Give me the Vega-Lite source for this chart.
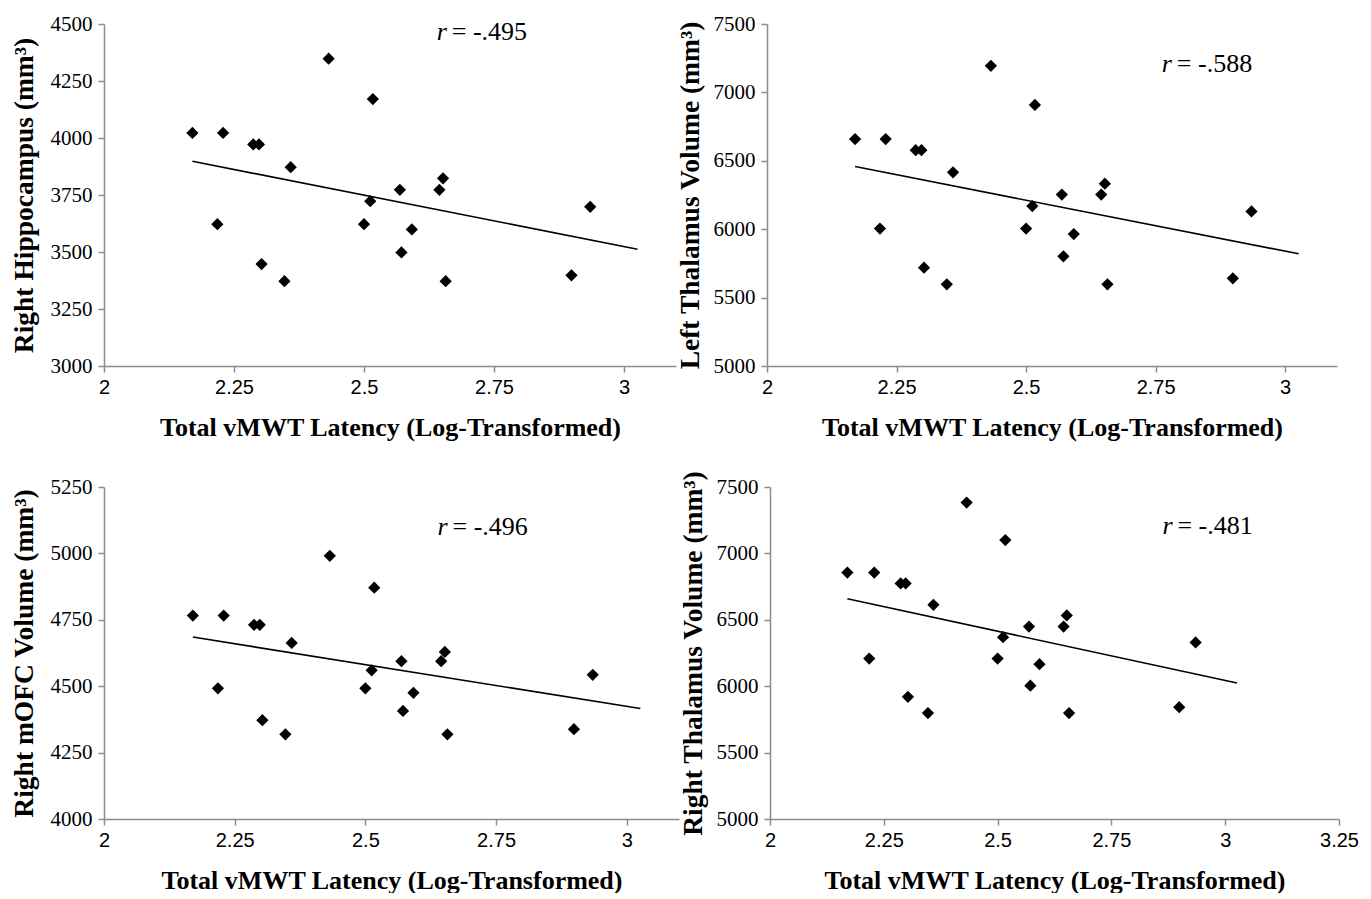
{
  "$schema": "https://vega.github.io/schema/vega-lite/v6.json",
  "background": "white",
  "padding": {"left": 10, "top": 13, "right": 0, "bottom": 0},
  "datasets": {
    "pts": [
      {"latency": 2.170, "hippo": 4022, "lthal": 6659, "mofc": 4766, "rthal": 6856},
      {"latency": 2.229, "hippo": 4022, "lthal": 6659, "mofc": 4766, "rthal": 6856},
      {"latency": 2.287, "hippo": 3972, "lthal": 6578, "mofc": 4731, "rthal": 6774},
      {"latency": 2.298, "hippo": 3972, "lthal": 6578, "mofc": 4731, "rthal": 6774},
      {"latency": 2.359, "hippo": 3872, "lthal": 6416, "mofc": 4663, "rthal": 6613},
      {"latency": 2.218, "hippo": 3622, "lthal": 6005, "mofc": 4492, "rthal": 6208},
      {"latency": 2.303, "hippo": 3447, "lthal": 5719, "mofc": 4372, "rthal": 5920},
      {"latency": 2.347, "hippo": 3372, "lthal": 5597, "mofc": 4319, "rthal": 5798},
      {"latency": 2.432, "hippo": 4348, "lthal": 7194, "mofc": 4991, "rthal": 7383},
      {"latency": 2.517, "hippo": 4171, "lthal": 6908, "mofc": 4871, "rthal": 7100},
      {"latency": 2.512, "hippo": 3723, "lthal": 6169, "mofc": 4560, "rthal": 6369},
      {"latency": 2.500, "hippo": 3622, "lthal": 6005, "mofc": 4492, "rthal": 6208},
      {"latency": 2.569, "hippo": 3773, "lthal": 6253, "mofc": 4594, "rthal": 6449},
      {"latency": 2.572, "hippo": 3498, "lthal": 5802, "mofc": 4407, "rthal": 6004},
      {"latency": 2.592, "hippo": 3599, "lthal": 5964, "mofc": 4475, "rthal": 6166},
      {"latency": 2.645, "hippo": 3773, "lthal": 6253, "mofc": 4594, "rthal": 6449},
      {"latency": 2.652, "hippo": 3823, "lthal": 6333, "mofc": 4629, "rthal": 6533},
      {"latency": 2.657, "hippo": 3372, "lthal": 5597, "mofc": 4319, "rthal": 5798},
      {"latency": 2.899, "hippo": 3398, "lthal": 5641, "mofc": 4338, "rthal": 5842},
      {"latency": 2.935, "hippo": 3698, "lthal": 6130, "mofc": 4543, "rthal": 6330}
    ],
    "fits": [
      {"latency": 2.170, "hippo": 3898, "lthal": 6458, "mofc": 4685, "rthal": 6658},
      {"latency": 3.026, "hippo": 3512, "lthal": 5820, "mofc": 4416, "rthal": 6024}
    ]
  },
  "config": {
    "view": {"stroke": null},
    "axis": {
      "grid": false,
      "domainColor": "#8c8c8c",
      "domainWidth": 1.5,
      "tickColor": "#8c8c8c",
      "tickWidth": 1.5,
      "tickSize": 6,
      "labelColor": "#000000",
      "titleColor": "#000000",
      "titleFont": "Liberation Serif",
      "titleFontWeight": "bold"
    },
    "axisX": {"labelFont": "Liberation Sans", "labelFontSize": 20, "labelPadding": 5, "labelFlush": false, "titlePadding": 17, "titleFontSize": 26, "format": ".2~f"},
    "axisY": {"labelFont": "Liberation Serif", "labelFontSize": 21, "labelPadding": 6, "titlePadding": 12, "titleFontSize": 27.5, "format": "d"}
  },
  "spacing": 30,
  "vconcat": [
    {
      "spacing": 0,
      "hconcat": [
        {
          "width": 572,
          "height": 342,
          "layer": [
            {
              "data": {"name": "pts"},
              "mark": {"type": "point", "shape": "diamond", "filled": true, "color": "#000000", "size": 150, "opacity": 1},
              "encoding": {
                "x": {"field": "latency", "type": "quantitative", "scale": {"domain": [2, 3.1], "nice": false, "zero": false}, "axis": {"values": [2, 2.25, 2.5, 2.75, 3], "title": "Total vMWT Latency (Log-Transformed)"}},
                "y": {"field": "hippo", "type": "quantitative", "scale": {"domain": [3000, 4500], "nice": false, "zero": false}, "axis": {"values": [3000, 3250, 3500, 3750, 4000, 4250, 4500], "title": "Right Hippocampus (mm³)"}}
              }
            },
            {
              "data": {"name": "fits"},
              "mark": {"type": "line", "color": "#000000", "strokeWidth": 1.6},
              "encoding": {"x": {"field": "latency", "type": "quantitative"}, "y": {"field": "hippo", "type": "quantitative"}}
            },
            {
              "data": {"values": [{}]},
              "mark": {"type": "text", "font": "Liberation Serif", "fontSize": 26, "fontStyle": "italic", "align": "left", "baseline": "middle", "color": "#000000"},
              "encoding": {"x": {"datum": 2.64}, "y": {"datum": 4465}, "text": {"value": "r"}}
            },
            {
              "data": {"values": [{}]},
              "mark": {"type": "text", "font": "Liberation Serif", "fontSize": 26, "align": "left", "baseline": "middle", "dx": 15, "color": "#000000"},
              "encoding": {"x": {"datum": 2.64}, "y": {"datum": 4465}, "text": {"value": "= -.495"}}
            }
          ]
        },
        {
          "width": 570,
          "height": 342,
          "layer": [
            {
              "data": {"name": "pts"},
              "mark": {"type": "point", "shape": "diamond", "filled": true, "color": "#000000", "size": 150, "opacity": 1},
              "encoding": {
                "x": {"field": "latency", "type": "quantitative", "scale": {"domain": [2, 3.1], "nice": false, "zero": false}, "axis": {"values": [2, 2.25, 2.5, 2.75, 3], "title": "Total vMWT Latency (Log-Transformed)"}},
                "y": {"field": "lthal", "type": "quantitative", "scale": {"domain": [5000, 7500], "nice": false, "zero": false}, "axis": {"values": [5000, 5500, 6000, 6500, 7000, 7500], "title": "Left Thalamus Volume (mm³)", "titlePadding": 9}}
              }
            },
            {
              "data": {"name": "fits"},
              "mark": {"type": "line", "color": "#000000", "strokeWidth": 1.6},
              "encoding": {"x": {"field": "latency", "type": "quantitative"}, "y": {"field": "lthal", "type": "quantitative"}}
            },
            {
              "data": {"values": [{}]},
              "mark": {"type": "text", "font": "Liberation Serif", "fontSize": 26, "fontStyle": "italic", "align": "left", "baseline": "middle", "color": "#000000"},
              "encoding": {"x": {"datum": 2.762}, "y": {"datum": 7210}, "text": {"value": "r"}}
            },
            {
              "data": {"values": [{}]},
              "mark": {"type": "text", "font": "Liberation Serif", "fontSize": 26, "align": "left", "baseline": "middle", "dx": 15, "color": "#000000"},
              "encoding": {"x": {"datum": 2.762}, "y": {"datum": 7210}, "text": {"value": "= -.588"}}
            }
          ]
        }
      ]
    },
    {
      "spacing": 0,
      "hconcat": [
        {
          "width": 575,
          "height": 332,
          "layer": [
            {
              "data": {"name": "pts"},
              "mark": {"type": "point", "shape": "diamond", "filled": true, "color": "#000000", "size": 150, "opacity": 1},
              "encoding": {
                "x": {"field": "latency", "type": "quantitative", "scale": {"domain": [2, 3.1], "nice": false, "zero": false}, "axis": {"values": [2, 2.25, 2.5, 2.75, 3], "title": "Total vMWT Latency (Log-Transformed)"}},
                "y": {"field": "mofc", "type": "quantitative", "scale": {"domain": [4000, 5250], "nice": false, "zero": false}, "axis": {"values": [4000, 4250, 4500, 4750, 5000, 5250], "title": "Right mOFC Volume (mm³)"}}
              }
            },
            {
              "data": {"name": "fits"},
              "mark": {"type": "line", "color": "#000000", "strokeWidth": 1.6},
              "encoding": {"x": {"field": "latency", "type": "quantitative"}, "y": {"field": "mofc", "type": "quantitative"}}
            },
            {
              "data": {"values": [{}]},
              "mark": {"type": "text", "font": "Liberation Serif", "fontSize": 26, "fontStyle": "italic", "align": "left", "baseline": "middle", "color": "#000000"},
              "encoding": {"x": {"datum": 2.638}, "y": {"datum": 5099}, "text": {"value": "r"}}
            },
            {
              "data": {"values": [{}]},
              "mark": {"type": "text", "font": "Liberation Serif", "fontSize": 26, "align": "left", "baseline": "middle", "dx": 15, "color": "#000000"},
              "encoding": {"x": {"datum": 2.638}, "y": {"datum": 5099}, "text": {"value": "= -.496"}}
            }
          ]
        },
        {
          "width": 569,
          "height": 332,
          "layer": [
            {
              "data": {"name": "pts"},
              "mark": {"type": "point", "shape": "diamond", "filled": true, "color": "#000000", "size": 150, "opacity": 1},
              "encoding": {
                "x": {"field": "latency", "type": "quantitative", "scale": {"domain": [2, 3.25], "nice": false, "zero": false}, "axis": {"values": [2, 2.25, 2.5, 2.75, 3, 3.25], "title": "Total vMWT Latency (Log-Transformed)"}},
                "y": {"field": "rthal", "type": "quantitative", "scale": {"domain": [5000, 7500], "nice": false, "zero": false}, "axis": {"values": [5000, 5500, 6000, 6500, 7000, 7500], "title": "Right Thalamus Volume (mm³)", "titlePadding": 9}}
              }
            },
            {
              "data": {"name": "fits"},
              "mark": {"type": "line", "color": "#000000", "strokeWidth": 1.6},
              "encoding": {"x": {"field": "latency", "type": "quantitative"}, "y": {"field": "rthal", "type": "quantitative"}}
            },
            {
              "data": {"values": [{}]},
              "mark": {"type": "text", "font": "Liberation Serif", "fontSize": 26, "fontStyle": "italic", "align": "left", "baseline": "middle", "color": "#000000"},
              "encoding": {"x": {"datum": 2.862}, "y": {"datum": 7206}, "text": {"value": "r"}}
            },
            {
              "data": {"values": [{}]},
              "mark": {"type": "text", "font": "Liberation Serif", "fontSize": 26, "align": "left", "baseline": "middle", "dx": 15, "color": "#000000"},
              "encoding": {"x": {"datum": 2.862}, "y": {"datum": 7206}, "text": {"value": "= -.481"}}
            }
          ]
        }
      ]
    }
  ]
}
